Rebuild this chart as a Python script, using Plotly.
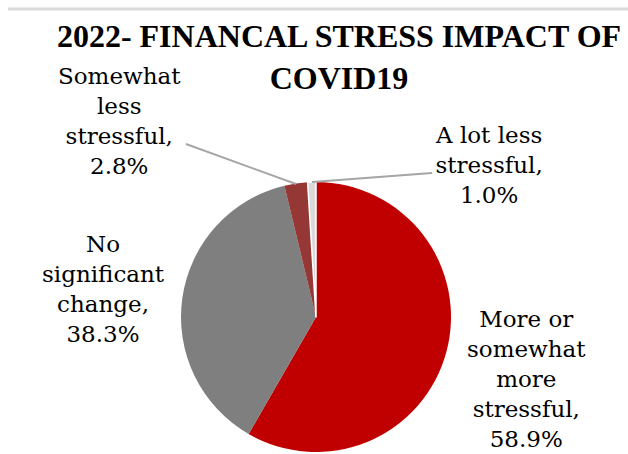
import plotly.graph_objects as go

categories = ["More or somewhat more stressful", "No significant change",
              "Somewhat less stressful", "A lot less stressful"]
values = [58.9, 38.3, 2.8, 1.0]
label_lines = [["More or", "somewhat", "more", "stressful,"],
               ["No", "significant", "change,"],
               ["Somewhat", "less", "stressful,"],
               ["A lot less", "stressful,"]]
colors = ["#C00000", "#7F7F7F", "#953735", "#D9D9D9"]
title_text = "2022- FINANCAL STRESS IMPACT OF<br>COVID19"

W, H = 628, 454

fig = go.Figure(go.Pie(
    labels=categories, values=values, sort=False, direction="clockwise",
    rotation=0, textinfo="none", hoverinfo="label+percent",
    marker=dict(colors=colors, line=dict(color="white", width=[0, 0, 0, 1.5])),
    domain=dict(x=[(316 - 135) / W, (316 + 135) / W],
                y=[(H - 317 - 135) / H, (H - 317 + 135) / H]),
    showlegend=False,
))

# label positions (pixels) for each slice
label_pos = [(526, 379), (103, 289), (119, 121), (489, 165)]
annotations = []
for lines, v, (px, py) in zip(label_lines, values, label_pos):
    txt = "<br>".join(lines + [f"{v:.1f}%"])
    annotations.append(dict(
        text=txt, x=px / W, y=1 - py / H, xref="paper", yref="paper",
        xanchor="center", yanchor="middle", align="center", showarrow=False,
        font=dict(family="DejaVu Serif", size=23, color="black")))

def seg(x0, y0, x1, y1, color="#A6A6A6", w=2):
    return dict(type="line", xref="paper", yref="paper",
                x0=x0 / W, y0=1 - y0 / H, x1=x1 / W, y1=1 - y1 / H,
                line=dict(color=color, width=w))

shapes = [
    seg(8, 9, W, 9, color="#D9D9D9", w=3),
    seg(186, 144, 296, 184),
    seg(312, 182, 432, 173),
]

fig.update_layout(
    width=W, height=H, margin=dict(l=0, r=0, t=0, b=0),
    paper_bgcolor="white", plot_bgcolor="white",
    title=dict(text=title_text, x=339 / W, xanchor="center",
               y=1 - 47 / H, yanchor="middle", yref="container",
               font=dict(family="Liberation Serif", size=32, color="black",
                         weight="bold")),
    annotations=annotations, shapes=shapes,
)

fig.write_html("out.html")
